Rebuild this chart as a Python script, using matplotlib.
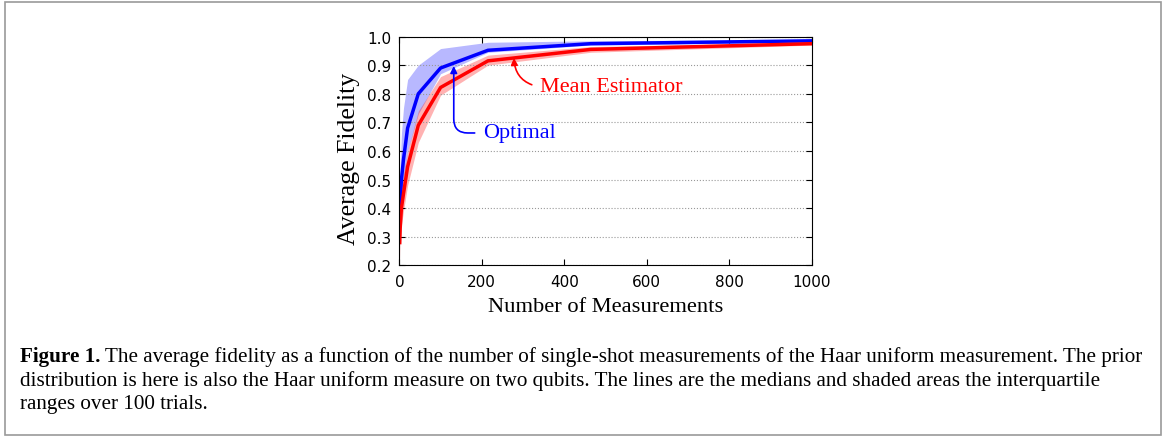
import numpy as np
import matplotlib
matplotlib.use('Agg')
import matplotlib.pyplot as plt
from matplotlib.patches import Rectangle

# measurements (log spaced) and fidelity medians / quartiles
n_meas = [1, 2, 5, 10, 20, 46, 100, 215, 464, 1000]
opt_med = [0.35, 0.42, 0.50, 0.57, 0.68, 0.80, 0.89, 0.952, 0.975, 0.985]
opt_lo = [0.30, 0.36, 0.44, 0.50, 0.60, 0.73, 0.87, 0.945, 0.970, 0.980]
opt_hi = [0.42, 0.55, 0.66, 0.75, 0.85, 0.90, 0.958, 0.980, 0.985, 0.990]
mean_med = [0.28, 0.33, 0.40, 0.45, 0.545, 0.69, 0.822, 0.915, 0.955, 0.975]
mean_lo = [0.22, 0.28, 0.34, 0.39, 0.48, 0.63, 0.795, 0.900, 0.945, 0.970]
mean_hi = [0.33, 0.39, 0.46, 0.52, 0.60, 0.74, 0.86, 0.935, 0.965, 0.980]

yticks = [0.2, 0.3, 0.4, 0.5, 0.6, 0.7, 0.8, 0.9, 1.0]
xticks = [0, 200, 400, 600, 800, 1000]

caption_bold = "Figure 1."
caption_lines = [
    " The average fidelity as a function of the number of single-shot measurements of the Haar uniform measurement. The prior",
    "distribution is here is also the Haar uniform measure on two qubits. The lines are the medians and shaded areas the interquartile",
    "ranges over 100 trials.",
]

serif = 'Liberation Serif'

fig = plt.figure(figsize=(11.66, 4.39), dpi=100)
fig.patches.append(Rectangle((0.004, 0.007), 0.992, 0.986, transform=fig.transFigure,
                             fill=False, edgecolor='#9a9a9a', linewidth=1.2))

ax = fig.add_axes([0.3425, 0.393, 0.3535, 0.5215])
ax.fill_between(n_meas, opt_lo, opt_hi, color='#0000ff', alpha=0.28, lw=0)
ax.fill_between(n_meas, mean_lo, mean_hi, color='#ff0000', alpha=0.3, lw=0)
ax.plot(n_meas, opt_med, color='#0000ff', lw=2.5)
ax.plot(n_meas, mean_med, color='#ff0000', lw=2.5)

ax.set_xlim(0, 1000)
ax.set_ylim(0.2, 1.0)
ax.set_xticks(xticks)
ax.set_yticks(yticks)
ax.set_yticklabels([f"{v:.1f}" for v in yticks])
ax.tick_params(direction='in', top=True, right=True, labelsize=11, length=4, pad=6)
ax.grid(axis='y', linestyle=':', color='#999999', lw=0.8)
ax.set_xlabel('Number of Measurements', family=serif, fontsize=16.2, labelpad=6)
ax.set_ylabel('Average Fidelity', family=serif, fontsize=18.5)
ax.yaxis.set_label_coords(-0.096, 0.47)

ax.annotate('Optimal', xy=(132, 0.897), xytext=(203, 0.663), color='#0000ff',
            family=serif, fontsize=16, va='center', ha='left',
            arrowprops=dict(arrowstyle='-|>', color='#0000ff', lw=1.2,
                            connectionstyle='angle,angleA=0,angleB=90,rad=14',
                            relpos=(0, 0.5), shrinkA=4, shrinkB=0, mutation_scale=10))
ax.annotate('Mean Estimator', xy=(278, 0.925), xytext=(341, 0.824), color='#ff0000',
            family=serif, fontsize=16, va='center', ha='left',
            arrowprops=dict(arrowstyle='-|>', color='#ff0000', lw=1.2,
                            connectionstyle='arc3,rad=-0.4',
                            relpos=(0, 0.5), shrinkA=4, shrinkB=0, mutation_scale=10))

# caption
cap_size = 15.2
t0 = fig.text(20 / 1166, 1 - 357 / 439, caption_bold, family=serif, fontsize=cap_size,
              weight='bold', va='center', ha='left')
r = fig.canvas.get_renderer()
bb = t0.get_window_extent(renderer=r)
fig.text(bb.x1 / fig.bbox.width, 1 - 357 / 439, caption_lines[0], family=serif,
         fontsize=cap_size, va='center', ha='left')
fig.text(20 / 1166, 1 - 381 / 439, caption_lines[1], family=serif, fontsize=cap_size,
         va='center', ha='left')
fig.text(20 / 1166, 1 - 405 / 439, caption_lines[2], family=serif, fontsize=cap_size,
         va='center', ha='left')

fig.savefig('out.png', dpi=100)
